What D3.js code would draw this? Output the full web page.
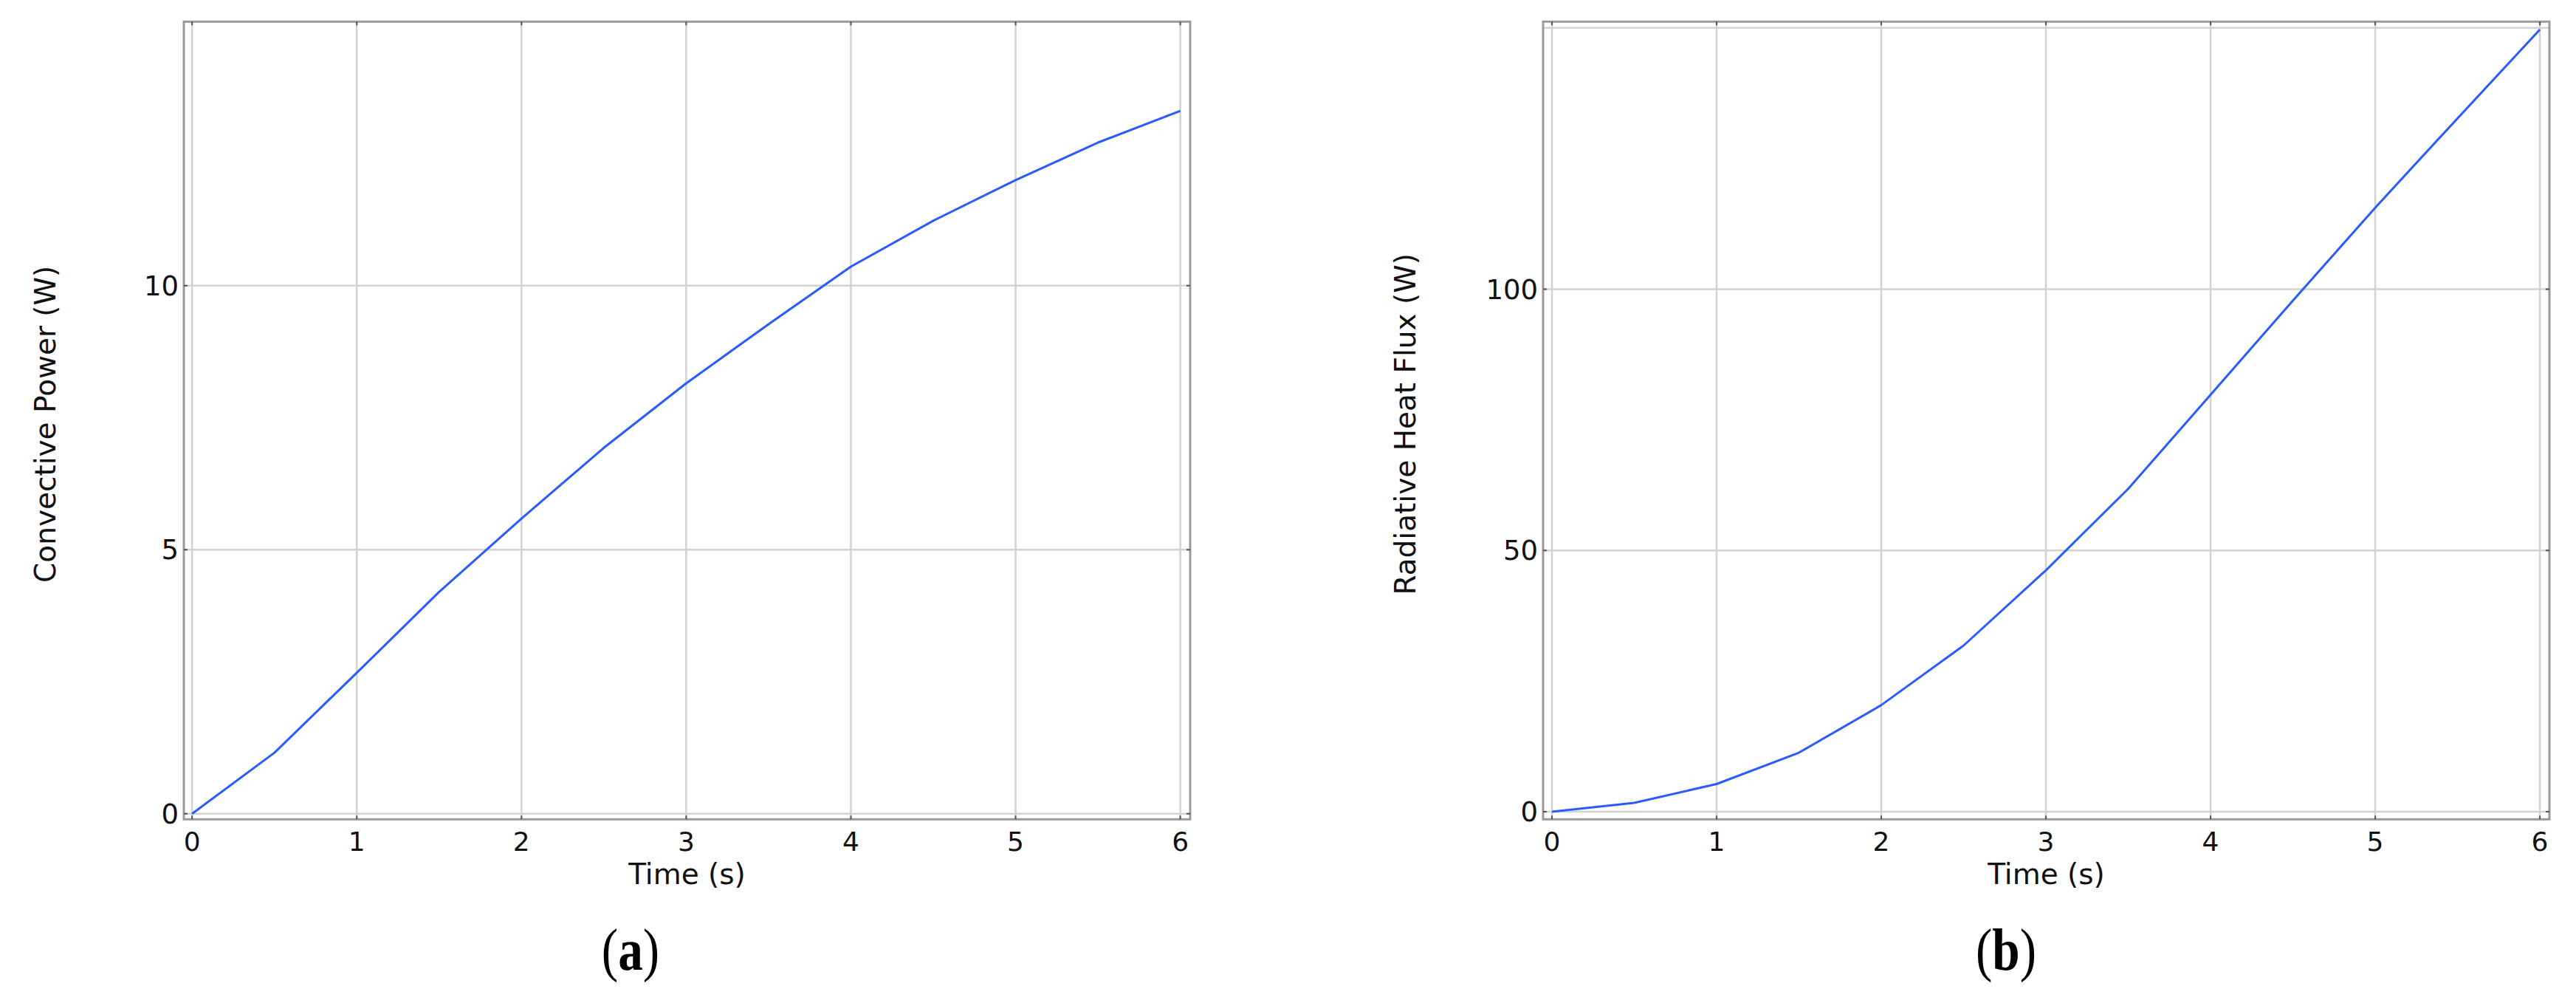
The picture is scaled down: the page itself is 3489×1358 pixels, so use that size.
<!DOCTYPE html>
<html>
<head>
<meta charset="utf-8">
<script src="https://cdn.jsdelivr.net/npm/d3@7"></script>
<style>
  html, body { margin: 0; padding: 0; background: #ffffff; }
  svg { display: block; }
</style>
</head>
<body>
<svg id="chart" width="3489" height="1358"></svg>
<script>
// ---- data ----
const timeS = [0, 0.5, 1, 1.5, 2, 2.5, 3, 3.5, 4, 4.5, 5, 5.5, 6];
const convectivePower = [0, 1.155, 2.67, 4.2, 5.59, 6.93, 8.15, 9.27, 10.36, 11.23, 12.0, 12.71, 13.31];
const radiativeFlux = [0, 1.7, 5.3, 11.3, 20.4, 31.8, 46.2, 61.8, 79.8, 97.8, 115.6, 132.7, 149.7];
const xTicks = [0, 1, 2, 3, 4, 5, 6];
const yTicksA = [0, 5, 10];
const yGridA = [0, 5, 10, 15];
const yTicksB = [0, 50, 100];
const yGridB = [0, 50, 100, 150];
const xTitle = "Time (s)";
const yTitleA = "Convective Power (W)";
const yTitleB = "Radiative Heat Flux (W)";

const svg = d3.select("#chart");
const FONT = "'DejaVu Sans', sans-serif";
const LINE_COLOR = "#2a5bff";

function panel(opts) {
  const { left, right, top, bottom, xDomain, yDomain, values, yTicks, yGrid,
          yTitle, yTitleX, caption, captionX } = opts;
  const x = d3.scaleLinear().domain(xDomain).range([left, right]);
  const y = d3.scaleLinear().domain(yDomain).range([bottom, top]);
  const g = svg.append("g");

  // grid lines
  g.selectAll(".vg").data(xTicks).join("line")
    .attr("x1", d => x(d)).attr("x2", d => x(d))
    .attr("y1", top).attr("y2", bottom)
    .attr("stroke", "#d2d2d2").attr("stroke-width", 2.5);
  g.selectAll(".hg").data(yGrid).join("line")
    .attr("y1", d => y(d)).attr("y2", d => y(d))
    .attr("x1", left).attr("x2", right)
    .attr("stroke", "#d2d2d2").attr("stroke-width", 2.5);

  // frame
  g.append("rect")
    .attr("x", left).attr("y", top)
    .attr("width", right - left).attr("height", bottom - top)
    .attr("fill", "none").attr("stroke", "#9a9a9a").attr("stroke-width", 3);

  // small tick marks on frame
  const tl = 5;
  g.selectAll(".tb").data(xTicks).join("line")
    .attr("x1", d => x(d)).attr("x2", d => x(d))
    .attr("y1", bottom).attr("y2", bottom - tl)
    .attr("stroke", "#555").attr("stroke-width", 2);
  g.selectAll(".tt").data(xTicks).join("line")
    .attr("x1", d => x(d)).attr("x2", d => x(d))
    .attr("y1", top).attr("y2", top + tl)
    .attr("stroke", "#555").attr("stroke-width", 2);
  g.selectAll(".tlft").data(yTicks).join("line")
    .attr("y1", d => y(d)).attr("y2", d => y(d))
    .attr("x1", left).attr("x2", left + tl)
    .attr("stroke", "#555").attr("stroke-width", 2);
  g.selectAll(".trgt").data(yTicks).join("line")
    .attr("y1", d => y(d)).attr("y2", d => y(d))
    .attr("x1", right).attr("x2", right - tl)
    .attr("stroke", "#555").attr("stroke-width", 2);

  // data line
  const line = d3.line().x((d, i) => x(timeS[i])).y(d => y(d));
  g.append("path").datum(values)
    .attr("d", line)
    .attr("fill", "none")
    .attr("stroke", LINE_COLOR)
    .attr("stroke-width", 3)
    .attr("stroke-linejoin", "round");

  // tick labels
  g.selectAll(".xl").data(xTicks).join("text")
    .attr("x", d => x(d)).attr("y", bottom + 43)
    .attr("text-anchor", "middle")
    .attr("font-family", FONT).attr("font-size", 36).attr("fill", "#111")
    .text(d => d);
  g.selectAll(".yl").data(yTicks).join("text")
    .attr("x", left - 7).attr("y", d => y(d) + 13)
    .attr("text-anchor", "end")
    .attr("font-family", FONT).attr("font-size", 37).attr("fill", "#111")
    .text(d => d);

  // axis titles
  g.append("text")
    .attr("x", (left + right) / 2).attr("y", bottom + 88)
    .attr("text-anchor", "middle")
    .attr("font-family", FONT).attr("font-size", 39).attr("fill", "#111")
    .text(xTitle);
  g.append("text")
    .attr("transform", `translate(${yTitleX},${(top + bottom) / 2 + 5}) rotate(-90)`)
    .attr("dy", "0.35em")
    .attr("text-anchor", "middle")
    .attr("font-family", FONT).attr("font-size", 39).attr("fill", "#111")
    .text(yTitle);

  // caption
  const cap = g.append("text")
    .attr("transform", `translate(${captionX},1313) scale(0.84,1)`)
    .attr("text-anchor", "middle")
    .attr("font-family", "'Liberation Serif', 'Times New Roman', serif")
    .attr("font-size", 80).attr("fill", "#000");
  cap.append("tspan").text("(");
  cap.append("tspan").attr("font-weight", "bold").text(caption);
  cap.append("tspan").text(")");
}

panel({
  left: 249, right: 1612, top: 29.3, bottom: 1109.3,
  xDomain: [-0.05, 6.06], yDomain: [-0.106, 15],
  values: convectivePower, yTicks: yTicksA, yGrid: yGridA,
  yTitle: yTitleA, yTitleX: 61, caption: "a", captionX: 854
});
panel({
  left: 2090, right: 3453, top: 29.3, bottom: 1109.3,
  xDomain: [-0.054, 6.058], yDomain: [-1.46, 151.2],
  values: radiativeFlux, yTicks: yTicksB, yGrid: yGridB,
  yTitle: yTitleB, yTitleX: 1903, caption: "b", captionX: 2717
});
</script>
</body>
</html>
